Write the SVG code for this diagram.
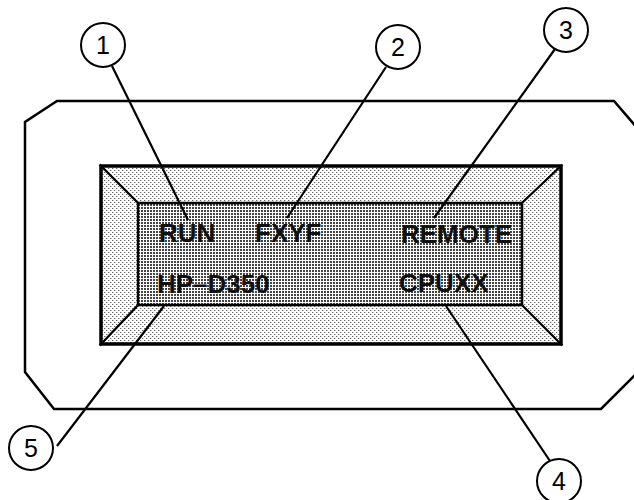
<svg xmlns="http://www.w3.org/2000/svg" width="634" height="500" viewBox="0 0 634 500">
  <style>
    .frame { fill: none; stroke: #000; stroke-width: 2.5; stroke-linejoin: miter; }
    .bevel { fill: url(#lightDots); stroke: #000; stroke-width: 2; stroke-linejoin: miter; }
    .screen { fill: url(#darkDots); stroke: #000; stroke-width: 2.5; }
    .lcd { font-family: "Liberation Sans", Arial, sans-serif; font-weight: bold; font-size: 26px; fill: #111; }
    .callout circle { fill: #fff; stroke: #000; stroke-width: 2; }
    .callout text { font-family: "Liberation Sans", Arial, sans-serif; font-size: 25px; fill: #000; text-anchor: middle; }
    .leader { stroke: #000; stroke-width: 2.2; fill: none; }
  </style>
  <defs>
    <pattern id="lightDots" patternUnits="userSpaceOnUse" x="0" y="0" width="4" height="4">
      <rect width="4" height="4" fill="#fff"/>
      <rect x="0" y="0" width="1" height="1" fill="#666"/>
      <rect x="2" y="2" width="1" height="1" fill="#666"/>
      <rect x="1" y="0" width="1" height="1" fill="#ccc"/>
      <rect x="3" y="2" width="1" height="1" fill="#ccc"/>
    </pattern>
    <pattern id="darkDots" patternUnits="userSpaceOnUse" x="0" y="0" width="3" height="3">
      <rect width="3" height="3" fill="#fff"/>
      <rect x="0" y="0" width="2" height="2" fill="#444"/>
    </pattern>
  </defs>

  <g id="housing">
    <polygon class="frame" points="57,101 614,101 645,137 645,365 601,409 54,409 25,372 25,122"/>
  </g>

  <g id="display">
    <rect x="101" y="166" width="460" height="178" fill="url(#lightDots)" stroke="none"/>
    <polygon class="bevel" points="101,166 561,166 522,203 138,203"/>
    <polygon class="bevel" points="101,344 561,344 522,305 138,305"/>
    <polygon class="bevel" points="101,166 138,203 138,305 101,344"/>
    <polygon class="bevel" points="561,166 522,203 522,305 561,344"/>
    <rect class="screen" x="138" y="203" width="384" height="102"/>
    <rect x="101" y="166" width="460" height="178" fill="none" stroke="#000" stroke-width="3.5"/>
    <text class="lcd" x="159" y="242">RUN</text>
    <text class="lcd" x="255" y="242">FXYF</text>
    <text class="lcd" x="401" y="243">REMOTE</text>
    <text class="lcd" x="157" y="293">HP–D350</text>
    <text class="lcd" x="399" y="292">CPUXX</text>
  </g>

  <g id="connectors">
    <line class="leader" x1="112" y1="66" x2="188" y2="220"/>
    <line class="leader" x1="386" y1="67" x2="287" y2="218"/>
    <line class="leader" x1="555" y1="49" x2="434" y2="218"/>
    <line class="leader" x1="446" y1="306" x2="550" y2="461"/>
    <line class="leader" x1="164" y1="306" x2="57" y2="446"/>
  </g>

  <g id="callout-1" class="callout">
    <circle cx="103" cy="45" r="22"/>
    <text x="103" y="54">1</text>
  </g>
  <g id="callout-2" class="callout">
    <circle cx="398" cy="47" r="22"/>
    <text x="398" y="56">2</text>
  </g>
  <g id="callout-3" class="callout">
    <circle cx="566" cy="30" r="22"/>
    <text x="566" y="39">3</text>
  </g>
  <g id="callout-4" class="callout">
    <circle cx="559" cy="481" r="22"/>
    <text x="559" y="490">4</text>
  </g>
  <g id="callout-5" class="callout">
    <circle cx="31" cy="448" r="22"/>
    <text x="31" y="457">5</text>
  </g>
</svg>
